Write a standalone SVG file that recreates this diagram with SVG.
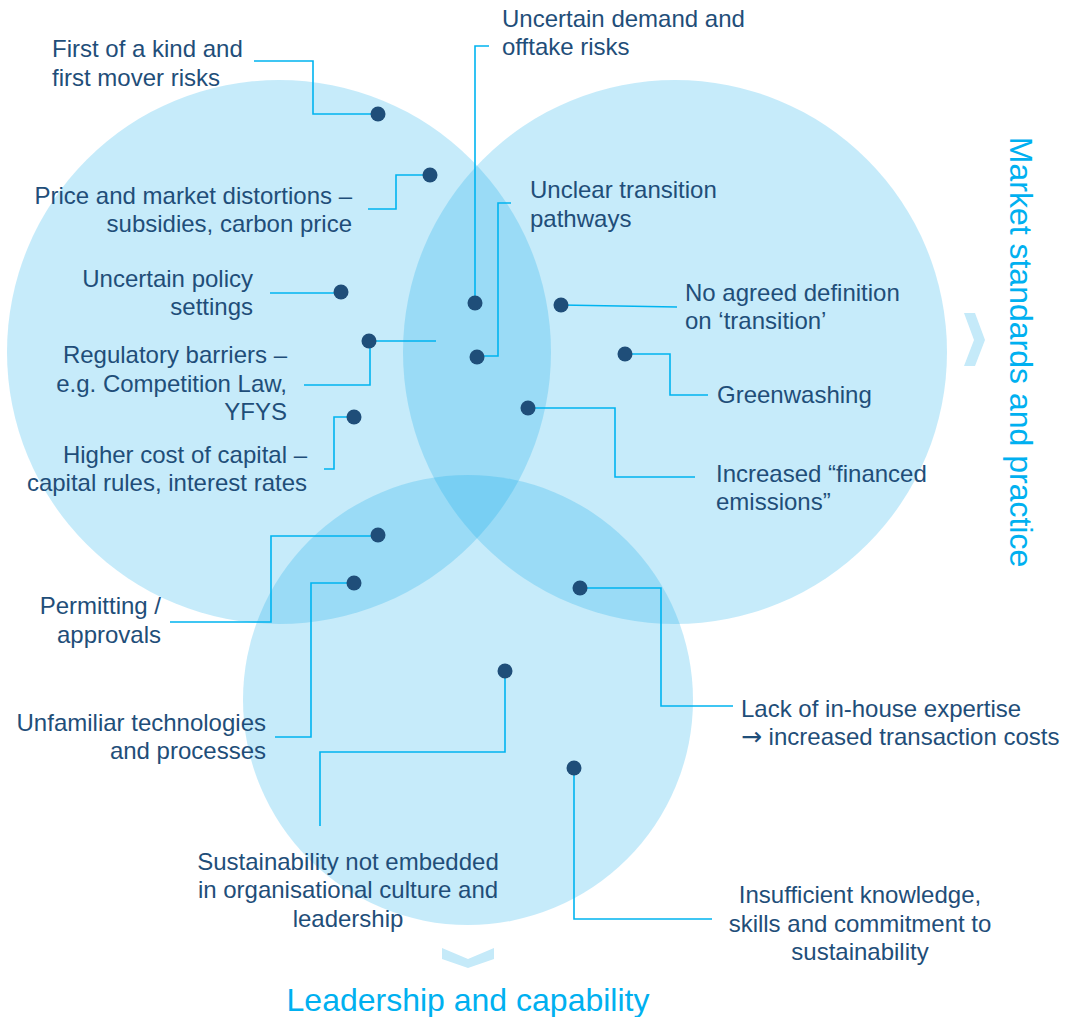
<svg xmlns="http://www.w3.org/2000/svg" width="1065" height="1017" viewBox="0 0 1065 1017">
  <style>
    .area { fill: #0dacea; fill-opacity: 0.235; }
    .chev { fill: #c5eaf9; }
    .lbl { font-family: "Liberation Sans", Arial, sans-serif; font-size: 24px; fill: #1f4e79; }
    .arrow { font-family: "DejaVu Sans", sans-serif; font-size: 25px; }
    .end { text-anchor: end; }
    .mid { text-anchor: middle; }
    .title { font-family: "Liberation Sans", Arial, sans-serif; font-size: 32px; fill: #00b0f0; text-anchor: middle; }
    .dot { fill: #1f4e79; }
    #connectors path { fill: none; stroke: #00b4f0; stroke-width: 1.6; }
  </style>

  <!-- overlapping areas -->
  <g id="areas">
    <circle class="area" cx="279" cy="352" r="272"/>
    <circle class="area" cx="675" cy="352" r="272"/>
    <circle class="area" cx="468" cy="700" r="225"/>
  </g>

  <!-- area headings -->
  <g id="heading-market">
    <polygon class="chev" points="964,313 975,313 985,340 975,366 964,366 974,340"/>
    <text class="title" transform="translate(1010,352) rotate(90)">Market standards and practice</text>
  </g>
  <g id="heading-leadership">
    <polygon class="chev" points="442,948 468,959 494,948 494,959 468,968 442,959"/>
    <text class="title" x="468" y="1011">Leadership and capability</text>
  </g>

  <!-- leader lines -->
  <g id="connectors">
    <path d="M254,61 H313 V114 H378"/>
    <path d="M368,209 H396 V175 H430"/>
    <path d="M489,46 H475 V303"/>
    <path d="M511,203 H498 V356 H477"/>
    <path d="M561,305 L677,307"/>
    <path d="M625,354 H670 V395 H708"/>
    <path d="M528,408 H615 V477 H695"/>
    <path d="M270,293 H341"/>
    <path d="M304,385 H370 V341 H436"/>
    <path d="M324,469 H334 V417 H354"/>
    <path d="M170,622 H271 V536 H378"/>
    <path d="M275,737 H311 V583 H354"/>
    <path d="M580,588 H661 V706 H733"/>
    <path d="M505,671 V752 H320 V826"/>
    <path d="M574,768 V919 H712"/>
  </g>

  <!-- barriers -->
  <g id="first-of-a-kind">
    <circle class="dot" cx="378" cy="114" r="7.5"/>
    <text class="lbl" x="52" y="57">First of a kind and</text>
    <text class="lbl" x="52" y="86">first mover risks</text>
  </g>
  <g id="price-distortions">
    <circle class="dot" cx="430" cy="175" r="7.5"/>
    <text class="lbl end" x="352" y="204">Price and market distortions –</text>
    <text class="lbl end" x="352" y="232">subsidies, carbon price</text>
  </g>
  <g id="uncertain-demand">
    <circle class="dot" cx="475" cy="303" r="7.5"/>
    <text class="lbl" x="502" y="27">Uncertain demand and</text>
    <text class="lbl" x="502" y="55">offtake risks</text>
  </g>
  <g id="unclear-pathways">
    <circle class="dot" cx="477" cy="357" r="7.5"/>
    <text class="lbl" x="530" y="198">Unclear transition</text>
    <text class="lbl" x="530" y="227">pathways</text>
  </g>
  <g id="no-definition">
    <circle class="dot" cx="561" cy="305" r="7.5"/>
    <text class="lbl" x="685" y="301">No agreed definition</text>
    <text class="lbl" x="685" y="329">on ‘transition’</text>
  </g>
  <g id="greenwashing">
    <circle class="dot" cx="625" cy="354" r="7.5"/>
    <text class="lbl" x="717" y="403">Greenwashing</text>
  </g>
  <g id="financed-emissions">
    <circle class="dot" cx="528" cy="408" r="7.5"/>
    <text class="lbl" x="716" y="482">Increased “financed</text>
    <text class="lbl" x="716" y="510">emissions”</text>
  </g>
  <g id="policy-settings">
    <circle class="dot" cx="341" cy="292" r="7.5"/>
    <text class="lbl end" x="253" y="287">Uncertain policy</text>
    <text class="lbl end" x="253" y="315">settings</text>
  </g>
  <g id="regulatory-barriers">
    <circle class="dot" cx="369" cy="341" r="7.5"/>
    <text class="lbl end" x="287" y="363">Regulatory barriers –</text>
    <text class="lbl end" x="287" y="392">e.g. Competition Law,</text>
    <text class="lbl end" x="287" y="420">YFYS</text>
  </g>
  <g id="cost-of-capital">
    <circle class="dot" cx="354" cy="417" r="7.5"/>
    <text class="lbl end" x="307" y="463">Higher cost of capital –</text>
    <text class="lbl end" x="307" y="491">capital rules, interest rates</text>
  </g>
  <g id="permitting">
    <circle class="dot" cx="378" cy="535" r="7.5"/>
    <text class="lbl end" x="161" y="614">Permitting /</text>
    <text class="lbl end" x="161" y="643">approvals</text>
  </g>
  <g id="unfamiliar-tech">
    <circle class="dot" cx="354" cy="583" r="7.5"/>
    <text class="lbl end" x="266" y="731">Unfamiliar technologies</text>
    <text class="lbl end" x="266" y="759">and processes</text>
  </g>
  <g id="in-house-expertise">
    <circle class="dot" cx="580" cy="588" r="7.5"/>
    <text class="lbl" x="741" y="717">Lack of in-house expertise</text>
    <text class="lbl" x="741" y="745"><tspan class="arrow">→</tspan> increased transaction costs</text>
  </g>
  <g id="sustainability-culture">
    <circle class="dot" cx="505" cy="671" r="7.5"/>
    <text class="lbl mid" x="348" y="870">Sustainability not embedded</text>
    <text class="lbl mid" x="348" y="898">in organisational culture and</text>
    <text class="lbl mid" x="348" y="927">leadership</text>
  </g>
  <g id="knowledge-skills">
    <circle class="dot" cx="574" cy="768" r="7.5"/>
    <text class="lbl mid" x="860" y="903">Insufficient knowledge,</text>
    <text class="lbl mid" x="860" y="932">skills and commitment to</text>
    <text class="lbl mid" x="860" y="960">sustainability</text>
  </g>
</svg>
